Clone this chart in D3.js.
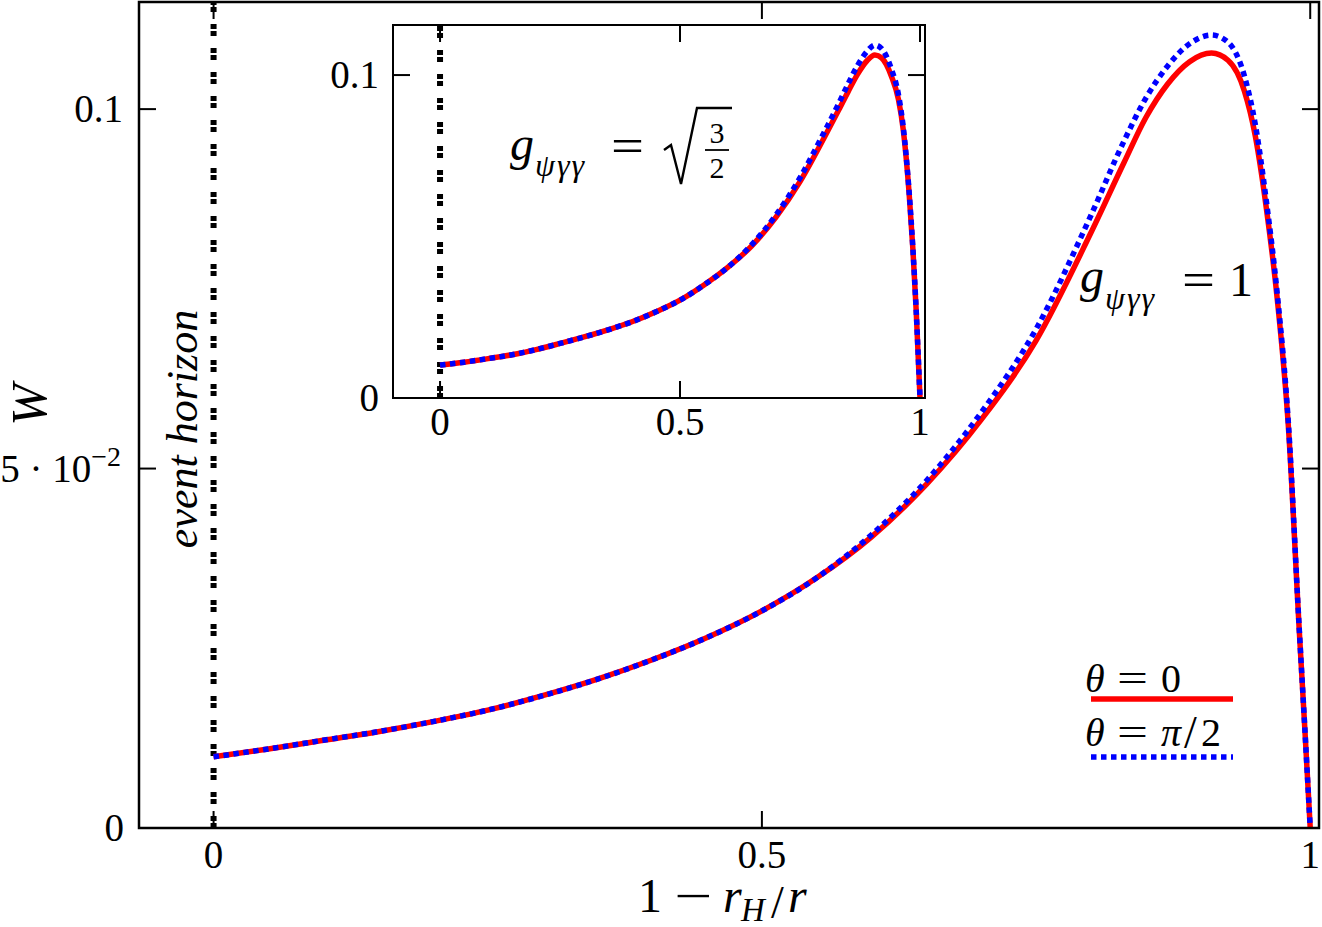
<!DOCTYPE html>
<html>
<head>
<meta charset="utf-8">
<script src="https://cdn.jsdelivr.net/npm/d3@7/dist/d3.min.js"></script>
<style>
  body { margin: 0; background: #fff; }
  svg text { font-family: "Liberation Serif", "DejaVu Serif", serif; fill: #000; }
</style>
</head>
<body>
<svg id="chart" width="1322" height="927"></svg>
<script>
// main panel: g_psi_gamma_gamma = 1
var mainX = [0, 0.05, 0.1, 0.15, 0.2, 0.25, 0.3, 0.35, 0.4, 0.45, 0.5, 0.55,
    0.6, 0.65, 0.7, 0.75, 0.8,
    0.83, 0.85, 0.87, 0.89, 0.91, 0.925, 0.94, 0.95, 0.96, 0.97, 0.98, 0.99, 0.995, 1.0];
var mainTheta0 = [0.0099, 0.0110, 0.0122, 0.0134, 0.0148, 0.0164, 0.0184, 0.0207, 0.0234, 0.0265, 0.0302, 0.0348,
    0.0405, 0.0478, 0.0568, 0.0678, 0.0828,
    0.0925, 0.0988, 0.1035, 0.1066, 0.1078, 0.1068, 0.1025, 0.0962, 0.0862, 0.0735, 0.0560, 0.0275, 0.0140, 0];
var mainThetaHalfPi = [0.0099, 0.0110, 0.0122, 0.0134, 0.0148, 0.0164, 0.0184, 0.0207, 0.0234, 0.0265, 0.0302, 0.0348,
    0.0408, 0.0483, 0.0578, 0.0694, 0.0852,
    0.0955, 0.1015, 0.1060, 0.1091, 0.1103, 0.1093, 0.1046, 0.0978, 0.0872, 0.0742, 0.0565, 0.0277, 0.0141, 0];

// inset: g_psi_gamma_gamma = sqrt(3/2)
var insetX = [0, 0.05, 0.1, 0.15, 0.2, 0.25, 0.3, 0.35, 0.4, 0.45, 0.5, 0.55, 0.6,
    0.65, 0.7, 0.75, 0.8, 0.83, 0.85, 0.87, 0.89, 0.906, 0.92, 0.94, 0.955, 0.965, 0.977, 0.985, 0.992, 1.0];
var insetTheta0 = [0.0102, 0.0111, 0.0122, 0.0134, 0.0150, 0.0169, 0.0189, 0.0211, 0.0236, 0.0267, 0.0303, 0.0350, 0.0405,
    0.0472, 0.0560, 0.0670, 0.0805, 0.0890, 0.0948, 0.1003, 0.1045, 0.1062, 0.1053, 0.0998, 0.0925, 0.0832, 0.0640, 0.0465, 0.0272, 0];
var insetThetaHalfPi = [0.0102, 0.0111, 0.0122, 0.0134, 0.0150, 0.0169, 0.0189, 0.0211, 0.0236, 0.0267, 0.0303, 0.0350, 0.0405,
    0.0476, 0.0567, 0.0682, 0.0822, 0.0910, 0.0972, 0.1030, 0.1074, 0.1093, 0.1082, 0.1020, 0.0940, 0.0840, 0.0645, 0.0468, 0.0273, 0];

var mainXTicks = [0, 0.5, 1];
var mainXTickLabels = ["0", "0.5", "1"];
var mainYTicks = [0, 0.05, 0.1];
var insetXTicks = [0, 0.5, 1];
var insetXTickLabels = ["0", "0.5", "1"];
var insetYTicks = [0, 0.1];
var insetYTickLabels = ["0", "0.1"];

var horizonX = 0;

var svg = d3.select("#chart");

// draws one framed panel with both curves
function panel(opt) {
    var x = d3.scaleLinear().domain(opt.xDomain).range([opt.left, opt.right]);
    var y = d3.scaleLinear().domain(opt.yDomain).range([opt.bottom, opt.top]);
    var g = svg.append("g");
    var id = "clip" + opt.name;

    g.append("clipPath").attr("id", id).append("rect")
        .attr("x", opt.left).attr("y", opt.top)
        .attr("width", opt.right - opt.left).attr("height", opt.bottom - opt.top);

    g.append("rect")
        .attr("x", opt.left).attr("y", opt.top)
        .attr("width", opt.right - opt.left).attr("height", opt.bottom - opt.top)
        .attr("fill", "#fff");

    var tl = 17;
    // ticks, mirrored on all sides
    opt.xTicks.forEach(function(t) {
        g.append("line").attr("x1", x(t)).attr("x2", x(t))
            .attr("y1", opt.bottom).attr("y2", opt.bottom - tl)
            .attr("stroke", "#000").attr("stroke-width", 2);
        g.append("line").attr("x1", x(t)).attr("x2", x(t))
            .attr("y1", opt.top).attr("y2", opt.top + tl)
            .attr("stroke", "#000").attr("stroke-width", 2);
    });
    opt.yTicks.forEach(function(t) {
        g.append("line").attr("x1", opt.left).attr("x2", opt.left + tl)
            .attr("y1", y(t)).attr("y2", y(t))
            .attr("stroke", "#000").attr("stroke-width", 2);
        g.append("line").attr("x1", opt.right).attr("x2", opt.right - tl)
            .attr("y1", y(t)).attr("y2", y(t))
            .attr("stroke", "#000").attr("stroke-width", 2);
    });

    g.selectAll("text.xt").data(opt.xTicks).enter().append("text")
        .attr("class", "xt")
        .attr("x", function(d) { return x(d); })
        .attr("y", opt.bottom + opt.xLabelOffset)
        .attr("text-anchor", "middle")
        .attr("font-size", 39)
        .text(function(d, i) { return opt.xTickLabels[i]; });

    // event horizon
    g.append("line")
        .attr("x1", x(horizonX)).attr("x2", x(horizonX))
        .attr("y1", opt.bottom).attr("y2", opt.top)
        .attr("stroke", "#000").attr("stroke-width", 6)
        .attr("stroke-dasharray", "5,2,5,12");

    var line = d3.line()
        .x(function(d) { return x(d[0]); })
        .y(function(d) { return y(d[1]); })
        .curve(d3.curveMonotoneX);

    var cg = g.append("g").attr("clip-path", "url(#" + id + ")");
    cg.append("path")
        .datum(d3.zip(opt.xs, opt.red))
        .attr("d", line)
        .attr("fill", "none").attr("stroke", "#ff0000").attr("stroke-width", 5.5);
    cg.append("path")
        .datum(d3.zip(opt.xs, opt.blue))
        .attr("d", line)
        .attr("fill", "none").attr("stroke", "#0000ff").attr("stroke-width", 5.5)
        .attr("stroke-dasharray", "5.5,4.5");

    g.append("rect")
        .attr("x", opt.left).attr("y", opt.top)
        .attr("width", opt.right - opt.left).attr("height", opt.bottom - opt.top)
        .attr("fill", "none").attr("stroke", "#000").attr("stroke-width", opt.frame);

    return { g: g, x: x, y: y };
}

// an "=" sign stretched to the wide TeX look
function equals(sel, x, y, size, w) {
    sel.append("text").attr("x", x).attr("y", y).attr("font-size", size)
        .attr("textLength", w).attr("lengthAdjust", "spacingAndGlyphs").text("=");
}

var main = panel({
    name: "main",
    left: 139, right: 1319, top: 2, bottom: 828,
    xDomain: [-0.068, 1.008], yDomain: [0, 0.1149],
    xTicks: mainXTicks, xTickLabels: mainXTickLabels, yTicks: mainYTicks,
    xLabelOffset: 40, frame: 2.5,
    xs: mainX, red: mainTheta0, blue: mainThetaHalfPi
});

// main y tick labels
var myl = main.g.append("g").attr("font-size", 39).attr("text-anchor", "end");
myl.append("text").attr("x", 124).attr("y", main.y(0) + 13).text("0");
myl.append("text").attr("x", 123).attr("y", main.y(0.1) + 13).text("0.1");
var five = myl.append("text").attr("x", 121).attr("y", main.y(0.05) + 13);
five.append("tspan").text("5 \u00b7 10");
five.append("tspan").attr("font-size", 28).attr("dy", -16).text("\u22122");

// axis labels
svg.append("text")
    .attr("transform", "translate(46,405) rotate(-90)")
    .attr("text-anchor", "middle")
    .attr("font-size", 50).attr("font-style", "italic")
    .text("W");

var xl = svg.append("g").attr("font-size", 48);
xl.append("text").attr("x", 638).attr("y", 912).text("1");
xl.append("text").attr("x", 674).attr("y", 912).attr("textLength", 38)
    .attr("lengthAdjust", "spacingAndGlyphs").text("\u2212");
xl.append("text").attr("x", 723).attr("y", 912).attr("font-style", "italic").text("r");
xl.append("text").attr("x", 741).attr("y", 921).attr("font-size", 33).attr("font-style", "italic").text("H");
xl.append("text").attr("x", 771).attr("y", 918).attr("font-size", 46).text("/");
xl.append("text").attr("x", 788).attr("y", 912).attr("font-style", "italic").text("r");

svg.append("text")
    .attr("transform", "translate(197,429) rotate(-90)")
    .attr("text-anchor", "middle")
    .attr("font-size", 44).attr("font-style", "italic")
    .text("event horizon");

// g = 1 label
var gl = svg.append("g");
gl.append("text").attr("x", 1080).attr("y", 292).attr("font-size", 48).attr("font-style", "italic").text("g");
gl.append("text").attr("x", 1105).attr("y", 309).attr("font-size", 32).attr("font-style", "italic")
    .attr("letter-spacing", 2).text("\u03c8\u03b3\u03b3");
equals(gl, 1182, 296, 48, 33);
gl.append("text").attr("x", 1229).attr("y", 296).attr("font-size", 48).text("1");

// legend
var legend = [
    { label: "0", italic: false, color: "#ff0000", dash: null, ty: 692, ly: 699 },
    { label: "\u03c0", italic: true, color: "#0000ff", dash: "5.5,4.5", ty: 746, ly: 757 }
];
var lg = svg.append("g").attr("font-size", 40);
legend.forEach(function(d) {
    lg.append("line")
        .attr("x1", 1091).attr("x2", 1233)
        .attr("y1", d.ly).attr("y2", d.ly)
        .attr("stroke", d.color)
        .attr("stroke-width", 5.5)
        .attr("stroke-dasharray", d.dash);
    lg.append("text").attr("x", 1085).attr("y", d.ty).attr("font-style", "italic").text("\u03b8");
    equals(lg, 1117, d.ty, 40, 31);
    lg.append("text").attr("x", 1161).attr("y", d.ty)
        .attr("font-style", d.italic ? "italic" : "normal").text(d.label);
});
lg.append("text").attr("x", 1184).attr("y", 748).attr("font-size", 46).text("/");
lg.append("text").attr("x", 1201).attr("y", 746).text("2");

// inset
var inset = panel({
    name: "inset",
    left: 393, right: 925, top: 25, bottom: 398,
    xDomain: [-0.098, 1.0104], yDomain: [0, 0.1155],
    xTicks: insetXTicks, xTickLabels: insetXTickLabels, yTicks: insetYTicks,
    xLabelOffset: 37, frame: 2,
    xs: insetX, red: insetTheta0, blue: insetThetaHalfPi
});
inset.g.selectAll("text.yt").data(insetYTicks).enter().append("text")
    .attr("class", "yt")
    .attr("x", 379)
    .attr("y", function(d) { return inset.y(d) + 13; })
    .attr("text-anchor", "end")
    .attr("font-size", 39)
    .text(function(d, i) { return insetYTickLabels[i]; });

// g = sqrt(3/2) label
var il = svg.append("g");
il.append("text").attr("x", 510).attr("y", 160).attr("font-size", 48).attr("font-style", "italic").text("g");
il.append("text").attr("x", 535).attr("y", 176).attr("font-size", 32).attr("font-style", "italic")
    .attr("letter-spacing", 2).text("\u03c8\u03b3\u03b3");
equals(il, 611, 162, 48, 33);
il.append("path")
    .attr("d", "M664,150 L671,145 L681,184 L697,108 L732,108")
    .attr("fill", "none").attr("stroke", "#000").attr("stroke-width", 2.4);
il.append("text").attr("x", 717).attr("y", 143).attr("font-size", 30).attr("text-anchor", "middle").text("3");
il.append("line").attr("x1", 705).attr("x2", 729).attr("y1", 150).attr("y2", 150)
    .attr("stroke", "#000").attr("stroke-width", 1.8);
il.append("text").attr("x", 717).attr("y", 178).attr("font-size", 30).attr("text-anchor", "middle").text("2");
</script>
</body>
</html>
